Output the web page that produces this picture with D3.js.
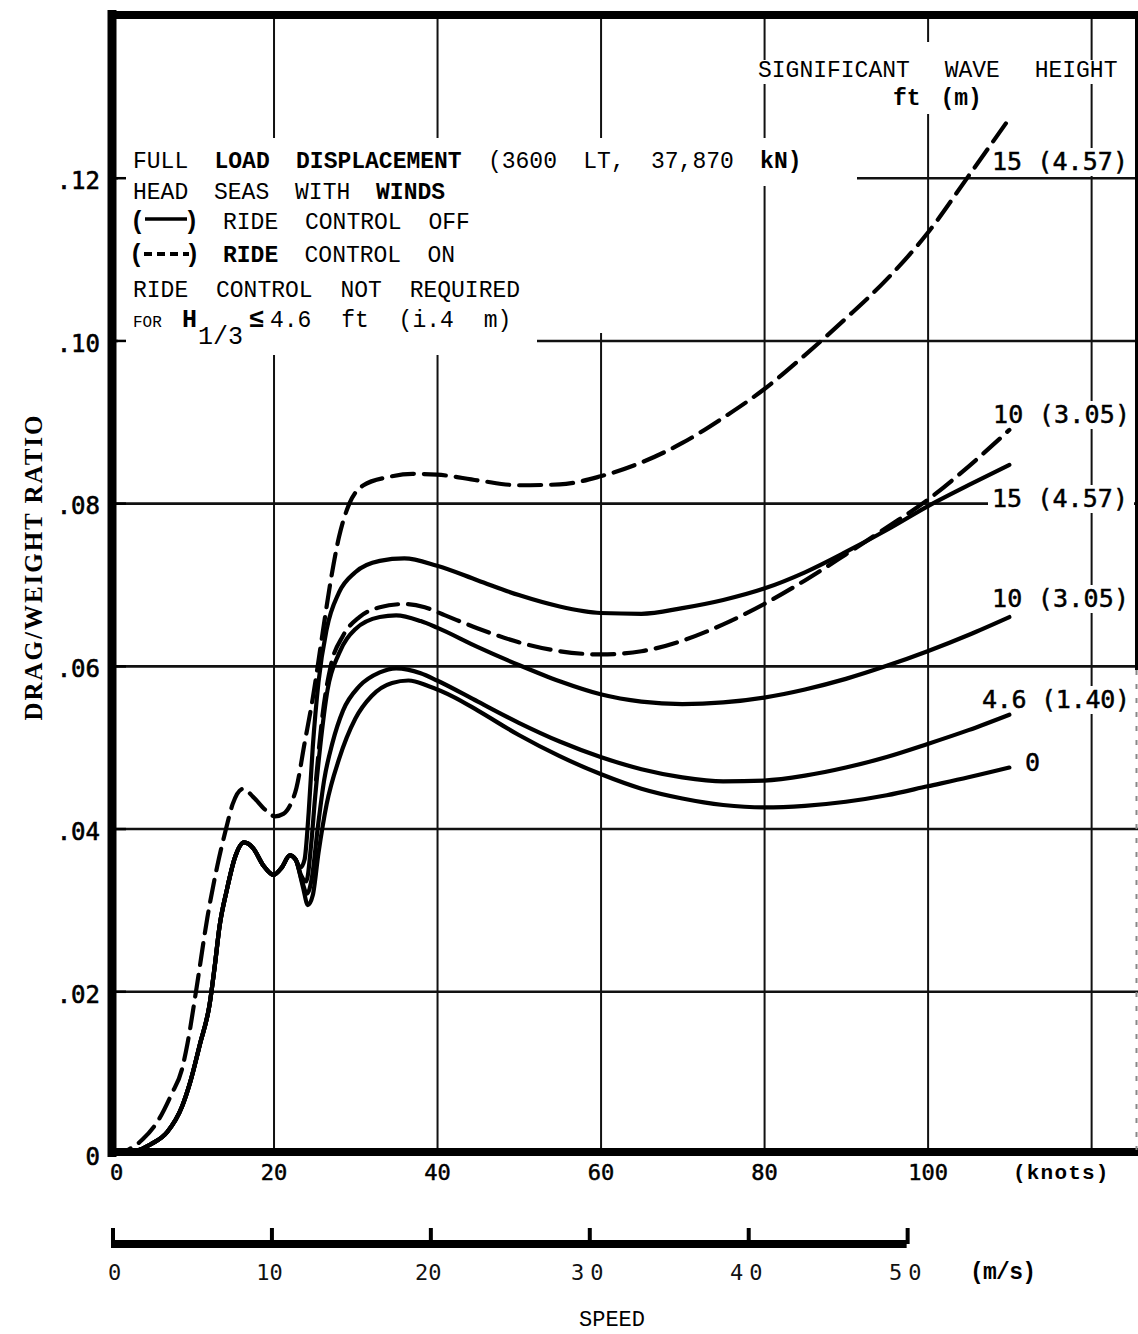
<!DOCTYPE html>
<html>
<head>
<meta charset="utf-8">
<script src="https://cdn.jsdelivr.net/npm/d3@7.8.5/dist/d3.min.js"></script>
<style>
  body { margin: 0; background: #fff; }
  svg { display: block; }
</style>
</head>
<body>
<div id="chart"></div>
<script>
// ---- data: [speed in knots, drag/weight ratio] ----
const solidBase = [
  [0, 0], [1.5, 0], [3, 0.0003], [5, 0.0012], [7, 0.0027], [8.8, 0.0058],
  [9.8, 0.0088], [11, 0.0135], [12.2, 0.0185], [12.8, 0.023], [13.4, 0.028],
  [14.3, 0.0325], [15.3, 0.0365], [16.4, 0.0383], [17.5, 0.0376], [18.8, 0.0354],
  [20, 0.0343], [21, 0.0352], [22, 0.0367], [22.7, 0.0362]
];
const solid15 = [
  [23.3, 0.0352], [23.8, 0.0362], [24.3, 0.042], [24.8, 0.05], [25.5, 0.058],
  [26.5, 0.0645], [28, 0.069], [30, 0.0715], [33, 0.0729], [36, 0.0732],
  [40, 0.0723], [45, 0.0705], [50, 0.0687], [55, 0.0673], [60, 0.0665],
  [65, 0.0664], [70, 0.0671], [75, 0.0681], [80, 0.0695], [85, 0.0715],
  [90, 0.074], [95, 0.0767], [100, 0.0796], [105, 0.0822], [110, 0.0847]
];
const solid10 = [
  [23.4, 0.0342], [24, 0.0335], [24.6, 0.038], [25.1, 0.044], [25.7, 0.05],
  [26.6, 0.057], [28, 0.0615], [30, 0.0645], [33, 0.066], [35, 0.0662],
  [38, 0.0655], [40, 0.0647], [45, 0.0623], [50, 0.0601], [55, 0.0581],
  [60, 0.0565], [65, 0.0556], [70, 0.0553], [75, 0.0555], [80, 0.0561],
  [85, 0.0571], [90, 0.0584], [95, 0.06], [100, 0.0618], [105, 0.0638], [110, 0.066]
];
const solid46 = [
  [23.5, 0.0335], [24.1, 0.032], [24.7, 0.034], [25.4, 0.04], [26.2, 0.046],
  [27.2, 0.0505], [28.5, 0.0545], [30.5, 0.0575], [33, 0.0592], [35, 0.0597],
  [38, 0.0591], [40, 0.0582], [45, 0.0556], [50, 0.053], [55, 0.0507],
  [60, 0.0488], [65, 0.0473], [70, 0.0463], [75, 0.0458], [80, 0.0459],
  [85, 0.0465], [90, 0.0475], [95, 0.0488], [100, 0.0504], [105, 0.0521], [110, 0.054]
];
const solid0 = [
  [23.6, 0.0328], [24.2, 0.0306], [24.8, 0.0318], [25.5, 0.037], [26.5, 0.043],
  [28, 0.0485], [30, 0.0535], [32, 0.0563], [34.5, 0.0579], [36.5, 0.0582],
  [39, 0.0575], [42, 0.0562], [45, 0.0545], [50, 0.0515], [55, 0.0489],
  [60, 0.0467], [65, 0.0449], [70, 0.0437], [75, 0.0429], [80, 0.0426],
  [85, 0.0428], [90, 0.0433], [95, 0.0441], [100, 0.0452], [105, 0.0463], [110, 0.0475]
];
const dashedBase = [
  [0, 0], [1, 0], [2, 0.0004], [4, 0.0018], [6, 0.0043], [7.5, 0.0073],
  [8.8, 0.0104], [9.5, 0.0137], [10.6, 0.0205], [11.9, 0.029], [13.1, 0.0353],
  [14.2, 0.04], [15, 0.043], [16.3, 0.0449], [17.5, 0.0439], [19, 0.0423],
  [20.2, 0.0415], [21.2, 0.0418], [22, 0.0428], [22.8, 0.045], [23.8, 0.0505]
];
const dashed15 = [
  [24.8, 0.056], [26, 0.064], [27, 0.0705], [28, 0.0758], [29.3, 0.08],
  [31, 0.0822], [34, 0.0832], [37, 0.0836], [40, 0.0835], [45, 0.0828],
  [50, 0.0822], [55, 0.0823], [60, 0.0833], [65, 0.085], [70, 0.0874],
  [75, 0.0905], [80, 0.094], [85, 0.0982], [90, 0.1027], [95, 0.1075],
  [100, 0.1132], [105, 0.1202], [109.8, 0.127]
];
const dashed10 = [
  [25.2, 0.046], [26, 0.054], [27, 0.06], [28.5, 0.0637], [30.5, 0.066],
  [33, 0.0672], [36, 0.0676], [38.5, 0.0672], [41, 0.0662], [45, 0.0646],
  [50, 0.0629], [55, 0.0618], [60, 0.0614], [65, 0.0618], [70, 0.0631],
  [75, 0.0651], [80, 0.0676], [85, 0.0705], [90, 0.0737], [95, 0.077],
  [100, 0.0804], [105, 0.0845], [110, 0.089]
];

const knotGrid = [20, 40, 60, 80, 100, 120];
const knotLabels = [0, 20, 40, 60, 80, 100];
const ratioTicks = [0, 0.02, 0.04, 0.06, 0.08, 0.10, 0.12];
const msTicks = [0, 10, 20, 30, 40, 50];
const KNOTS_PER_MS = 1.94384;

const series = [
  { name: "15 (4.57)", dashed: true, points: dashedBase.concat(dashed15) },
  { name: "10 (3.05)", dashed: true, points: dashed10 },
  { name: "15 (4.57)", dashed: false, points: solidBase.concat(solid15) },
  { name: "10 (3.05)", dashed: false, points: solidBase.concat(solid10) },
  { name: "4.6 (1.40)", dashed: false, points: solidBase.concat(solid46) },
  { name: "0", dashed: false, points: solidBase.concat(solid0) }
];

// ---- layout ----
const W = 1138, H = 1334;
const TYPE = "'Liberation Mono', 'Courier New', monospace";
const SANSMONO = "'DejaVu Sans Mono', monospace";

const svg = d3.select("#chart").append("svg")
  .attr("width", W).attr("height", H)
  .attr("viewBox", `0 0 ${W} ${H}`);

const x = d3.scaleLinear().domain([0, 125]).range([110, 1132]);
const y = d3.scaleLinear().domain([0, 0.14]).range([1154, 15]);
const ms = d3.scaleLinear().domain([0, 50]).range([x(0), x(50 * KNOTS_PER_MS)]);

// grid
const gridG = svg.append("g");
gridG.append("g")
  .attr("transform", `translate(0, ${y(0)})`)
  .call(d3.axisBottom(x).tickValues(knotGrid).tickSize(-(y(0) - 12)).tickFormat(""))
  .call(g => g.select(".domain").remove())
  .call(g => g.selectAll(".tick line").attr("stroke", "#111").attr("stroke-width", 2));
gridG.append("g")
  .attr("transform", "translate(112, 0)")
  .call(d3.axisRight(y).tickValues(ratioTicks.filter(d => d > 0)).tickSize(W - 112).tickFormat(""))
  .call(g => g.select(".domain").remove())
  .call(g => g.selectAll(".tick line").attr("stroke", "#111").attr("stroke-width", 2.6));

// white patches where the pasted-on legend hides the grid
const masks = svg.append("g").attr("fill", "#fff");
masks.append("rect").attr("x", 118).attr("y", 138).attr("width", 857 - 118).attr("height", 48);
masks.append("rect").attr("x", 118).attr("y", 186).attr("width", 612 - 118).attr("height", 147);
masks.append("rect").attr("x", 118).attr("y", 333).attr("width", 537 - 118).attr("height", 22);
masks.append("rect").attr("x", 885).attr("y", 42).attr("width", 105).attr("height", 72);

// curve label backgrounds (positions tuned to the reference)
const curveLabels = [
  { text: "15 (4.57)", x: 992, y: 170, len: 136, toEdge: false },
  { text: "10 (3.05)", x: 993, y: 423, len: 137, toEdge: false },
  { text: "15 (4.57)", x: 992, y: 507, len: 136, toEdge: true },
  { text: "10 (3.05)", x: 992, y: 607, len: 137, toEdge: false },
  { text: "4.6 (1.40)", x: 982, y: 708, len: 148, toEdge: false },
  { text: "0", x: 1025, y: 771, len: 14, toEdge: false }
];
const labelBg = svg.append("g").attr("fill", "#fff");
curveLabels.forEach(d => {
  labelBg.append("rect")
    .attr("x", d.x - 4).attr("y", d.y - 22)
    .attr("width", d.toEdge ? 1134 - (d.x - 4) : d.len + 8).attr("height", 28);
});

// borders
const frame = svg.append("g").attr("stroke", "#000").attr("fill", "none");
frame.append("line").attr("x1", 112).attr("x2", 112).attr("y1", 10).attr("y2", 1157).attr("stroke-width", 9);
frame.append("line").attr("x1", 108).attr("x2", W).attr("y1", y(0) - 2).attr("y2", y(0) - 2).attr("stroke-width", 8);
frame.append("line").attr("x1", 108).attr("x2", W).attr("y1", 15).attr("y2", 15).attr("stroke-width", 8);
frame.append("line").attr("x1", 1136.5).attr("x2", 1136.5).attr("y1", 12).attr("y2", 670).attr("stroke-width", 3);
frame.append("line").attr("x1", 1136.5).attr("x2", 1136.5).attr("y1", 670).attr("y2", 1150)
  .attr("stroke-width", 2).attr("stroke", "#888").attr("stroke-dasharray", "5,9");

// y axis labels and short inner ticks
svg.append("g")
  .attr("transform", "translate(112, 0)")
  .call(d3.axisLeft(y).tickValues(ratioTicks).tickSize(0).tickPadding(12)
    .tickFormat(d => d === 0 ? "0" : d3.format(".2f")(d).replace(/^0/, "")))
  .call(g => g.select(".domain").remove())
  .call(g => g.selectAll("text")
    .attr("font-family", SANSMONO).attr("font-size", 24)
    .attr("fill", "#000").attr("stroke", "#000").attr("stroke-width", 0.6)
    .attr("dy", "0.45em"));
svg.append("g")
  .attr("transform", "translate(116, 0)")
  .call(d3.axisRight(y).tickValues(ratioTicks.filter(d => d > 0)).tickSize(10).tickFormat(""))
  .call(g => g.select(".domain").remove())
  .call(g => g.selectAll(".tick line").attr("stroke", "#000").attr("stroke-width", 2.5));

// knots axis labels
svg.append("g")
  .attr("transform", `translate(0, ${y(0)})`)
  .call(d3.axisBottom(x).tickValues(knotLabels).tickSize(0).tickPadding(10))
  .call(g => g.select(".domain").remove())
  .call(g => g.selectAll("text")
    .attr("font-family", SANSMONO).attr("font-size", 22)
    .attr("dx", d => d === 0 ? 6 : 0)
    .attr("fill", "#000").attr("stroke", "#000").attr("stroke-width", 0.5));
svg.append("text")
  .attr("x", 1013).attr("y", 1179)
  .attr("font-family", TYPE).attr("font-size", 21).attr("font-weight", "bold")
  .attr("letter-spacing", 1.2)
  .text("(knots)");

// m/s axis
const msY = 1244;
const msG = svg.append("g");
msG.append("line")
  .attr("x1", ms(0) + 1).attr("x2", ms(50) + 2).attr("y1", msY).attr("y2", msY)
  .attr("stroke", "#000").attr("stroke-width", 8);
msG.selectAll(".mstick").data(msTicks).enter().append("line")
  .attr("class", "mstick")
  .attr("x1", d => ms(d) + 3).attr("x2", d => ms(d) + 3)
  .attr("y1", msY).attr("y2", msY - 16)
  .attr("stroke", "#000").attr("stroke-width", 4);
svg.append("g")
  .attr("transform", `translate(0, ${msY})`)
  .call(d3.axisBottom(ms).tickValues(msTicks).tickSize(0).tickPadding(20))
  .call(g => g.select(".domain").remove())
  .call(g => g.selectAll("text")
    .attr("font-family", SANSMONO).attr("font-size", 22).attr("fill", "#111")
    .attr("letter-spacing", d => d >= 30 ? 6 : 0)
    .attr("dx", d => d === 0 ? 4 : d >= 30 ? 3 : 0));
svg.append("text")
  .attr("x", 970).attr("y", 1279)
  .attr("font-family", TYPE).attr("font-size", 23).attr("font-weight", "bold")
  .attr("textLength", 66)
  .text("(m/s)");
svg.append("text")
  .attr("x", 612).attr("y", 1326).attr("text-anchor", "middle")
  .attr("font-family", TYPE).attr("font-size", 22)
  .text("SPEED");

// y title
svg.append("text")
  .attr("transform", "translate(42, 568) rotate(-90)")
  .attr("text-anchor", "middle")
  .attr("font-family", "'Liberation Serif', serif").attr("font-size", 25).attr("font-weight", "bold")
  .attr("textLength", 305).attr("lengthAdjust", "spacing")
  .text("DRAG/WEIGHT RATIO");

// header texts with their own backgrounds
const header = svg.append("g");
const sig = header.append("text")
  .attr("x", 758).attr("y", 77)
  .attr("font-family", TYPE).attr("font-size", 23)
  .attr("word-spacing", 21)
  .text("SIGNIFICANT WAVE HEIGHT");
const ftm = header.append("text")
  .attr("x", 893).attr("y", 105)
  .attr("font-family", TYPE).attr("font-size", 23).attr("font-weight", "bold")
  .attr("word-spacing", 6)
  .text("ft (m)");
[sig, ftm].forEach(t => {
  const b = t.node().getBBox();
  header.insert("rect", "text")
    .attr("x", b.x - 3).attr("y", b.y + 2).attr("width", b.width + 6).attr("height", b.height - 2)
    .attr("fill", "#fff");
});

// curves
const line = d3.line()
  .x(d => x(d[0]))
  .y(d => y(d[1]))
  .curve(d3.curveMonotoneX);

svg.append("g")
  .selectAll("path")
  .data(series)
  .enter()
  .append("path")
  .attr("d", d => line(d.points))
  .attr("fill", "none")
  .attr("stroke", "#000")
  .attr("stroke-width", 4.2)
  .attr("stroke-linecap", "round")
  .attr("stroke-dasharray", d => d.dashed ? "22,10" : null);

svg.append("g")
  .selectAll("text")
  .data(curveLabels)
  .enter()
  .append("text")
  .attr("x", d => d.x).attr("y", d => d.y)
  .attr("font-family", SANSMONO).attr("font-size", 25)
  .attr("stroke", "#000").attr("stroke-width", 0.5)
  .attr("textLength", d => d.len).attr("lengthAdjust", "spacing")
  .text(d => d.text);

// legend block
const legend = svg.append("g").attr("font-family", TYPE).attr("font-size", 23).attr("fill", "#000");

function legendRow(yBase, xStart, gap, parts) {
  const t = legend.append("text")
    .attr("x", xStart).attr("y", yBase)
    .attr("word-spacing", gap);
  parts.forEach(p => {
    t.append("tspan")
      .attr("font-weight", p[1] ? "bold" : "normal")
      .text(p[0]);
  });
  return t;
}

legendRow(168, 133, 12.5, [["FULL ", false], ["LOAD DISPLACEMENT", true], [" (3600 LT, 37,870 ", false], ["kN)", true]]);
legendRow(199, 133, 12, [["HEAD SEAS WITH ", false], ["WINDS", true]]);
legendRow(229, 223, 13, [["RIDE CONTROL OFF", false]]);
legendRow(262, 223, 12.5, [["RIDE", true], [" CONTROL ON", false]]);
legendRow(297, 133, 14, [["RIDE CONTROL NOT REQUIRED", false]]);

// legend symbols
legend.append("text").attr("x", 130).attr("y", 229).attr("font-weight", "bold").attr("font-size", 25).text("(");
legend.append("text").attr("x", 184).attr("y", 229).attr("font-weight", "bold").attr("font-size", 25).text(")");
legend.append("line").attr("x1", 145).attr("x2", 187).attr("y1", 219).attr("y2", 219)
  .attr("stroke", "#000").attr("stroke-width", 3.5);
legend.append("text").attr("x", 129).attr("y", 262).attr("font-weight", "bold").attr("font-size", 25).text("(");
legend.append("text").attr("x", 185).attr("y", 262).attr("font-weight", "bold").attr("font-size", 25).text(")");
legend.append("line").attr("x1", 144).attr("x2", 189).attr("y1", 254).attr("y2", 254)
  .attr("stroke", "#000").attr("stroke-width", 4).attr("stroke-dasharray", "8,5");

// last legend row: FOR H1/3 <= 4.6 ft (i.4 m)
legend.append("text").attr("x", 133).attr("y", 327).attr("font-size", 16).text("FOR");
legend.append("text").attr("x", 182).attr("y", 327).attr("font-size", 25).attr("font-weight", "bold").text("H");
legend.append("text").attr("x", 198).attr("y", 344).attr("font-size", 25).text("1/3");
legend.append("text").attr("x", 249).attr("y", 327).attr("font-size", 26).attr("font-weight", "bold").text("≤");
legend.append("text").attr("x", 270).attr("y", 327).attr("word-spacing", 16).text("4.6 ft (i.4 m)");
</script>
</body>
</html>
